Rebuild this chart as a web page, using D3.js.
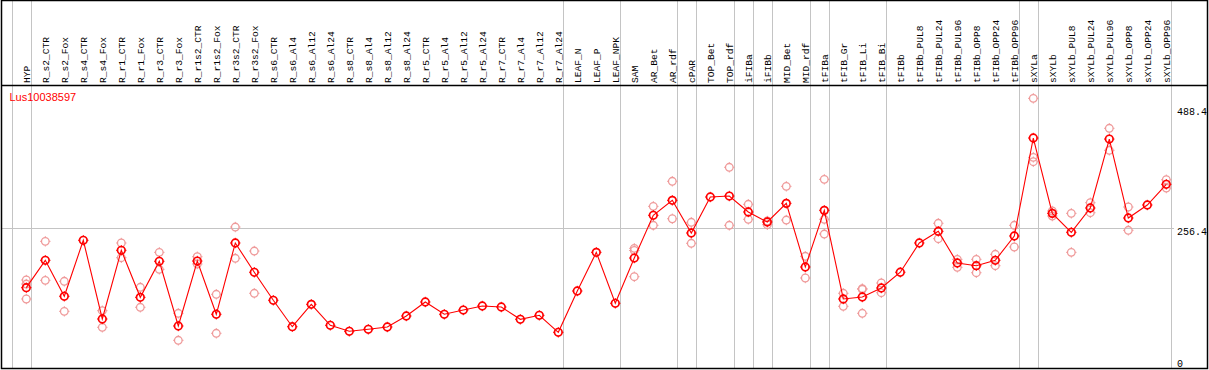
<!DOCTYPE html>
<html>
<head>
<meta charset="utf-8">
<script src="https://cdn.jsdelivr.net/npm/d3@7"></script>
<style>
  body { margin: 0; background: #fff; }
  svg { display: block; }
</style>
</head>
<body>
<svg id="chart" width="1209" height="370"></svg>
<script>
// sample names (columns)
const samples = [
    'HYP', 'R_s2_CTR', 'R_s2_Fox', 'R_s4_CTR', 'R_s4_Fox', 'R_r1_CTR', 'R_r1_Fox',
    'R_r3_CTR', 'R_r3_Fox', 'R_r1s2_CTR', 'R_r1s2_Fox', 'R_r3s2_CTR', 'R_r3s2_Fox',
    'R_s6_CTR', 'R_s6_Al4', 'R_s6_Al12', 'R_s6_Al24', 'R_s8_CTR', 'R_s8_Al4',
    'R_s8_Al12', 'R_s8_Al24', 'R_r5_CTR', 'R_r5_Al4', 'R_r5_Al12', 'R_r5_Al24',
    'R_r7_CTR', 'R_r7_Al4', 'R_r7_Al12', 'R_r7_Al24', 'LEAF_N', 'LEAF_P', 'LEAF_NPK',
    'SAM', 'AR_Bet', 'AR_rdf', 'cPAR', 'TOP_Bet', 'TOP_rdf', 'iFIBa', 'iFIBb',
    'MID_Bet', 'MID_rdf', 'tFIBa', 'tFIB_Gr', 'tFIB_Li', 'tFIB_Bi', 'tFIBb',
    'tFIBb_PUL8', 'tFIBb_PUL24', 'tFIBb_PUL96', 'tFIBb_OPP8', 'tFIBb_OPP24', 'tFIBb_OPP96',
    'sXYLa', 'sXYLb', 'sXYLb_PUL8', 'sXYLb_PUL24', 'sXYLb_PUL96', 'sXYLb_OPP8',
    'sXYLb_OPP24', 'sXYLb_OPP96'
];

// mean expression per sample
const means = [
    141.8, 194.6, 125.2, 233.2, 81.4, 213.9, 123.2, 192.7, 67.9, 193.2, 90.5, 228.0, 171.5,
    117.5, 66.5, 109.7, 69.2, 57.7, 61.5, 66.0, 87.2, 114.2, 90.5, 98.7, 106.5,
    104.5, 80.8, 88.5, 55.7, 135.4, 210.0, 111.7,
    199.0, 281.4, 310.3, 247.3, 316.7, 318.6, 287.8, 268.5, 304.5, 181.7, 291.0,
    120.0, 123.8, 141.2, 171.6, 228.0, 250.5, 189.4, 184.2, 194.6, 241.5,
    430.5, 285.2, 248.6, 295.5, 428.5, 276.2, 301.3, 341.2
];

// individual replicates per sample
const replicates = [
    [156.6, 120.0, 148.8], [231.2, 156.0], [154.1, 96.2], [], [97.4, 65.4], [228.0, 199.6],
    [142.5, 104.0], [210.0, 177.2], [92.4, 40.3], [201.5, 187.5], [129.0, 53.8],
    [258.8, 198.5], [212.5, 131.0],
    [], [], [], [], [], [], [], [], [], [], [], [], [], [], [], [], [], [], [],
    [217.7, 213.5, 163.0], [298.7, 262.1], [347.0, 274.8], [267.9, 227.4], [],
    [374.0, 262.1], [302.6, 273.7], [270.4, 263.3], [337.3, 272.3], [202.3, 160.5],
    [350.8, 273.7, 245.3],
    [131.0, 105.9], [138.7, 92.4, 140.0], [150.8, 132.1], [], [], [266.0, 236.3],
    [196.5, 181.1], [196.5, 170.7], [206.2, 184.2], [262.1, 220.3],
    [507.0, 393.2, 384.8], [289.7, 280.0], [285.2, 210.0], [305.7, 286.4],
    [449.2, 406.8], [297.4, 252.5], [], [350.0, 334.0]
];

// group separators come after these sample indices
const groupEnds = [-1, 0, 28, 31, 34, 35, 37, 38, 39, 41, 42, 45, 52, 53, 60];

const yTicks = [0, 256.4, 488.4];
const geneName = 'Lus10038597';

const headerY = 85;
const gray = '#c4c4c4';
const mono = '"Liberation Mono", "DejaVu Sans Mono", monospace';

const svg = d3.select('#chart');

const x = d3.scalePoint()
    .domain(d3.range(samples.length))
    .range([26.3, 1166.3]);

const y = d3.scaleLinear()
    .domain([0, 488.4])
    .range([361.2, 108]);

// vertical group lines
svg.append('g')
    .selectAll('line')
    .data(groupEnds)
    .enter()
    .append('line')
    .attr('x1', d => Math.round(x(0) + 19 * d + 4.5) + 0.5)
    .attr('x2', d => Math.round(x(0) + 19 * d + 4.5) + 0.5)
    .attr('y1', 0)
    .attr('y2', 369)
    .attr('stroke', gray)
    .attr('stroke-width', 1);

// horizontal gridline at the middle tick
svg.append('line')
    .attr('x1', 1)
    .attr('x2', 1174)
    .attr('y1', Math.round(y(256.4)) + 0.5)
    .attr('y2', Math.round(y(256.4)) + 0.5)
    .attr('stroke', gray);

// header separator and frame
svg.append('line')
    .attr('x1', 1).attr('x2', 1208)
    .attr('y1', headerY + 0.5).attr('y2', headerY + 0.5)
    .attr('stroke', '#000')
    .attr('stroke-width', 1.5);

svg.append('rect')
    .attr('x', 1.5).attr('y', 0.5)
    .attr('width', 1206).attr('height', 368)
    .attr('fill', 'none')
    .attr('stroke', '#000')
    .attr('stroke-width', 1.5);

// rotated sample labels
svg.append('g')
    .selectAll('text')
    .data(samples)
    .enter()
    .append('text')
    .attr('transform', (d, i) => `translate(${x(i)},83) rotate(-90)`)
    .attr('dy', '0.35em')
    .attr('font-family', mono)
    .attr('font-size', '9.6px')
    .attr('fill', '#000')
    .text(d => d);

// right axis labels (top of text sits on the tick)
svg.append('g')
    .selectAll('text')
    .data(yTicks)
    .enter()
    .append('text')
    .attr('x', 1177)
    .attr('y', d => Math.min(y(d) + 6.5, 366.5))
    .attr('font-family', mono)
    .attr('font-size', '10px')
    .attr('fill', '#000')
    .text(d => d);

// gene name
svg.append('text')
    .attr('x', 9.5)
    .attr('y', 100.5)
    .attr('font-family', '"Liberation Sans", Arial, sans-serif')
    .attr('font-size', '11px')
    .attr('fill', '#ff0000')
    .text(geneName);

// circle with little N/S/E/W ticks, like the bitmap markers
function marker(g, cx, cy, color, sw) {
    g.append('circle')
        .attr('cx', cx).attr('cy', cy).attr('r', 3.8)
        .attr('fill', 'none')
        .attr('stroke', color)
        .attr('stroke-width', sw);
    [[0, -1], [0, 1], [-1, 0], [1, 0]].forEach(([dx, dy]) => {
        g.append('line')
            .attr('x1', cx + dx * 3.8).attr('y1', cy + dy * 3.8)
            .attr('x2', cx + dx * 5.2).attr('y2', cy + dy * 5.2)
            .attr('stroke', color)
            .attr('stroke-width', 1);
    });
}

// replicates
const repPoints = [];
replicates.forEach((reps, i) => reps.forEach(v => repPoints.push([i, v])));
const repG = svg.append('g');
repPoints.forEach(([i, v]) => marker(repG, x(i), y(v), '#ef9a9a', 1.3));

// mean line
const line = d3.line()
    .x((d, i) => x(i))
    .y(d => y(d));

svg.append('path')
    .datum(means)
    .attr('d', line)
    .attr('fill', 'none')
    .attr('stroke', '#ff0000')
    .attr('stroke-width', 1.1);

// mean markers
const meanG = svg.append('g');
means.forEach((v, i) => marker(meanG, x(i), y(v), '#ff0000', 1.7));
</script>
</body>
</html>
